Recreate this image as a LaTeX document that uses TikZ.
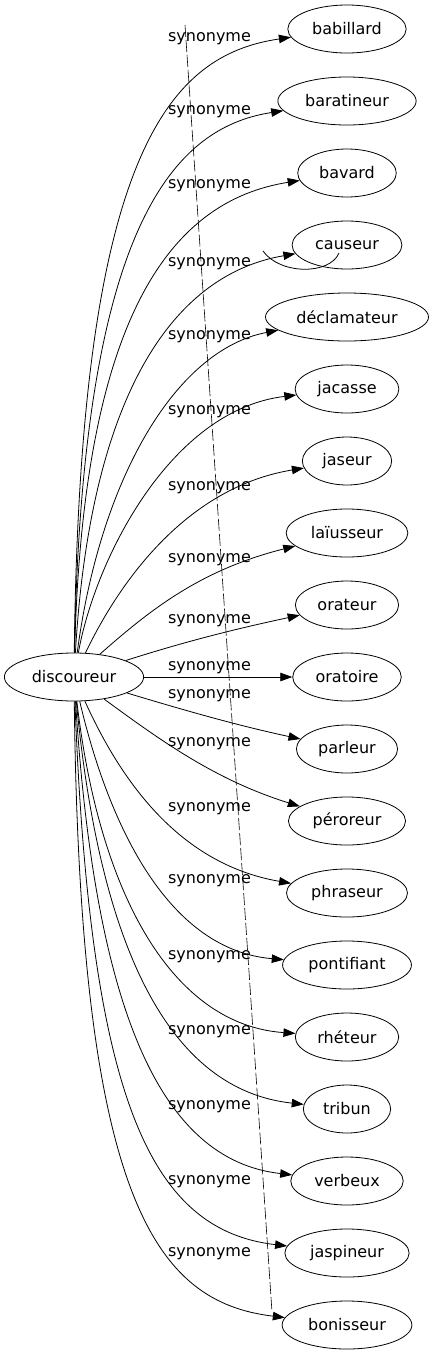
\documentclass[tikz,border=0pt]{standalone}
\usepackage{fontspec}
\setmainfont{DejaVu Sans}
\usetikzlibrary{arrows.meta,shapes.geometric}
\begin{document}
\begin{tikzpicture}[x=1pt,y=-1pt,
  word/.style={ellipse, draw, line width=0.8pt, minimum height=48pt, inner xsep=7pt, inner ysep=2pt, font=\fontsize{16}{19}\selectfont},
  lab/.style={font=\fontsize{16}{19}\selectfont, inner sep=0pt, anchor=base},
  syn/.style={line width=0.8pt, -{Triangle[length=12pt,width=8.5pt]}},
  dashline/.style={line width=0.6pt, dash pattern=on 12pt off 3pt}]
\useasboundingbox (0,0) rectangle (431,1355);
% nodes
\node[word] (disc) at (74,677) {discoureur};
\node[word] (babillard) at (347,29) {babillard};
\node[word] (baratineur) at (347,101) {baratineur};
\node[word] (bavard) at (347,173) {bavard};
\node[word] (causeur) at (347,245) {causeur};
\node[word] (declamateur) at (347,317) {déclamateur};
\node[word] (jacasse) at (347,389) {jacasse};
\node[word] (jaseur) at (347,461) {jaseur};
\node[word] (laiusseur) at (347,533) {laïusseur};
\node[word] (orateur) at (347,605) {orateur};
\node[word] (oratoire) at (347,677) {oratoire};
\node[word] (parleur) at (347,749) {parleur};
\node[word] (peroreur) at (347,821) {péroreur};
\node[word] (phraseur) at (347,893) {phraseur};
\node[word] (pontifiant) at (347,965) {pontifiant};
\node[word] (rheteur) at (347,1037) {rhéteur};
\node[word] (tribun) at (347,1109) {tribun};
\node[word] (verbeux) at (347,1181) {verbeux};
\node[word] (jaspineur) at (347,1253) {jaspineur};
\node[word] (bonisseur) at (347,1325) {bonisseur};
% labels
\foreach \y [count=\k] in {37,110,184,262,335,410,486,558,619,666,694,742,807,879,955,1030,1105,1180,1252}
  \node[lab] (lab\k) at (209.5,\y+4.5) {synonyme};
% edges
\draw[syn] (disc) .. controls (80,150) and (170,55) .. (babillard);
\draw[syn] (disc) .. controls (82,233) and (170,128) .. (baratineur);
\draw[syn] (disc) .. controls (83,317) and (170,201) .. (bavard);
\draw[syn] (disc) .. controls (90,400) and (170,275) .. (causeur);
\draw[syn] (disc) .. controls (100,480) and (175,350) .. (declamateur);
\draw[syn] (disc) .. controls (95,560) and (170,410) .. (jacasse);
\draw[syn] (disc) .. controls (105,612) and (170,490) .. (jaseur);
\draw[syn] (disc) .. controls (150,610) and (200,570) .. (laiusseur);
\draw[syn] (disc) .. controls (190,640) and (240,628) .. (orateur);
\draw[syn] (disc) -- (oratoire);
\draw[syn] (disc) .. controls (190,712) and (240,726) .. (parleur);
\draw[syn] (disc) .. controls (160,740) and (215,780) .. (peroreur);
\draw[syn] (disc) .. controls (125,790) and (185,865) .. (phraseur);
\draw[syn] (disc) .. controls (110,830) and (170,950) .. (pontifiant);
\draw[syn] (disc) .. controls (100,900) and (175,1025) .. (rheteur);
\draw[syn] (disc) .. controls (100,950) and (170,1090) .. (tribun);
\draw[syn] (disc) .. controls (95,1010) and (160,1160) .. (verbeux);
\draw[syn] (disc) .. controls (90,1100) and (150,1230) .. (jaspineur);
\draw[syn] (disc) .. controls (80,1200) and (155,1302) .. (bonisseur);
% stray loop near causeur
\coordinate (loopa) at (263,251);
\coordinate (loopb) at (339,253);
\draw[line width=0.8pt] (loopa) .. controls (280,275) and (330,275) .. (loopb);
% dashed line
\coordinate (dtop) at (185,25);
\coordinate (dbot) at (272,1312);
\draw[dashline] (dtop) -- (dbot);
\end{tikzpicture}
\end{document}
